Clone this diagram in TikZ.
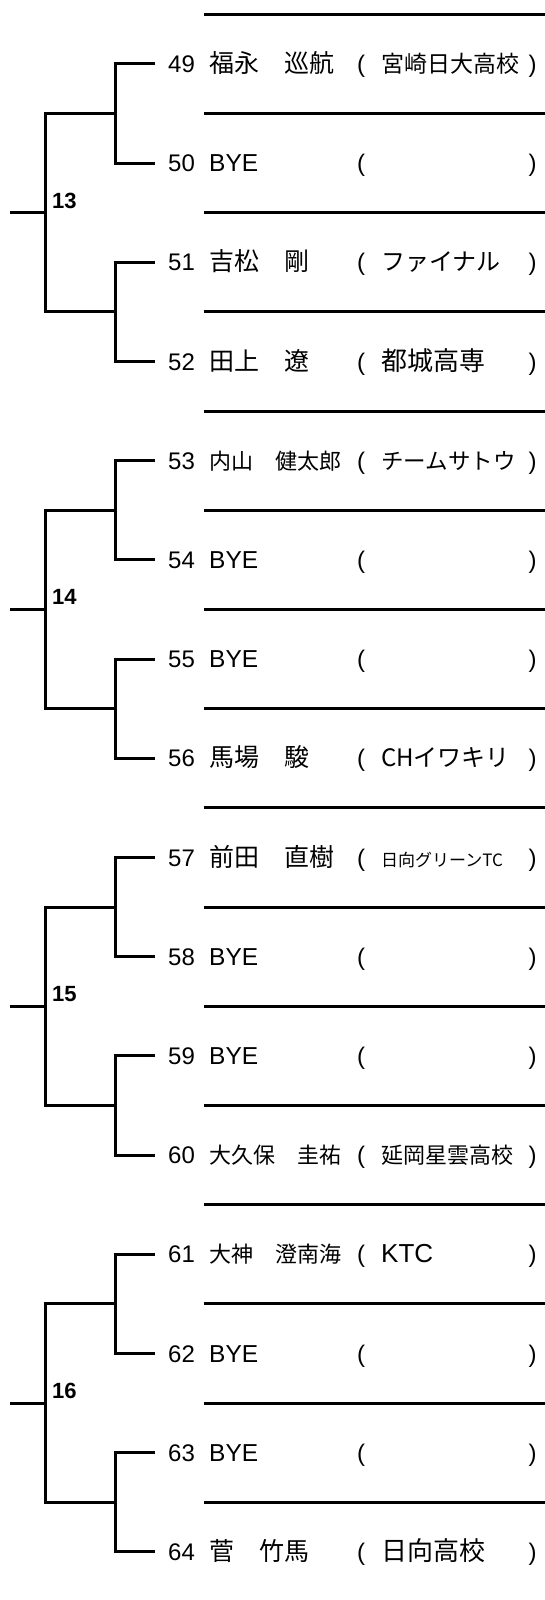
\documentclass[tikz,border=0pt]{standalone}
\usepackage{fontspec}
\setmainfont{Liberation Sans}
\newfontfamily\cjk{Noto Sans CJK JP}
\usetikzlibrary{calc}
\newcommand\txtjp[2]{{\cjk\fontsize{#1}{#1}\selectfont #2}}
\newcommand\txtlt[2]{{\fontsize{#1}{#1}\selectfont #2}}
\newcommand\plentry[4]{%
  \pgfmathsetmacro\ry{63.8+99.2*#1}%
  \pgfmathsetmacro\by{\ry+8.6}%
  \node[numtxt] (n#2) at (168,\by) {#2};
  \node[nametxt] (p#2) at (209,\by) {#3};
  \node[paren] (lp#2) at (361,\by) {(};
  \node[nametxt] (t#2) at (381,\by) {#4};
  \node[paren] (rp#2) at (532.5,\by) {)};
  \coordinate (s#2) at (155,\ry);
  \coordinate (j#2) at (115,\ry);
}
\newcommand\plgroup[2]{% g, label
  \pgfmathtruncatemacro\na{49+4*#1}%
  \pgfmathtruncatemacro\nb{50+4*#1}%
  \pgfmathtruncatemacro\nc{51+4*#1}%
  \pgfmathtruncatemacro\nd{52+4*#1}%
  \pgfmathsetmacro\ya{14.2+99.2*(4*#1+1)}%
  \pgfmathsetmacro\yb{14.2+99.2*(4*#1+3)}%
  \pgfmathsetmacro\ym{14.2+99.2*(4*#1+2)}%
  \coordinate (ua#1) at (115,\ya);
  \coordinate (ub#1) at (115,\yb);
  \coordinate (oa#1) at (45,\ya);
  \coordinate (ob#1) at (45,\yb);
  \coordinate (root#1) at (45,\ym);
  \coordinate (in#1) at (10,\ym);
  \draw[brk] (s\na) -- (j\na) -- (j\nb) -- (s\nb);
  \draw[brk] (s\nc) -- (j\nc) -- (j\nd) -- (s\nd);
  \draw[brk] (ua#1) -- (oa#1) -- (ob#1) -- (ub#1);
  \draw[brk] (in#1) -- (root#1);
  \node[lbl] (lab#1) at (52,\ym-4.6) {#2};
}
\begin{document}
\begin{tikzpicture}[x=1pt,y=-1pt,
  sepline/.style={line width=3pt},
  brk/.style={line width=3pt},
  numtxt/.style={anchor=base west,inner sep=0pt,font=\fontsize{24}{24}\selectfont},
  nametxt/.style={anchor=base west,inner sep=0pt},
  paren/.style={anchor=base,inner sep=0pt,font=\fontsize{24}{24}\selectfont},
  lbl/.style={anchor=base west,inner sep=0pt,font=\fontsize{22}{22}\selectfont\bfseries}]
\useasboundingbox (0,0) rectangle (544,1600);
\fill[white] (0,0) rectangle (544,1600);
% separator lines
\foreach \k in {0,...,15}{
  \pgfmathsetmacro\ly{14.2+99.2*\k}
  \coordinate (la\k) at (204,\ly);
  \coordinate (lb\k) at (546,\ly);
  \draw[sepline] (la\k) -- (lb\k);
}
% entries
\plentry{0}{49}{\txtjp{25}{福永　巡航}}{\txtjp{23}{宮崎日大高校}}
\plentry{1}{50}{\txtlt{24.5}{BYE}}{}
\plentry{2}{51}{\txtjp{25}{吉松　剛}}{\txtjp{24}{ファイナル}}
\plentry{3}{52}{\txtjp{25}{田上　遼}}{\txtjp{26}{都城高専}}
\plentry{4}{53}{\txtjp{22}{内山　健太郎}}{\txtjp{22.5}{チームサトウ}}
\plentry{5}{54}{\txtlt{24.5}{BYE}}{}
\plentry{6}{55}{\txtlt{24.5}{BYE}}{}
\plentry{7}{56}{\txtjp{25}{馬場　駿}}{\txtjp{24}{CHイワキリ}}
\plentry{8}{57}{\txtjp{25}{前田　直樹}}{\txtjp{17}{日向グリーンTC}}
\plentry{9}{58}{\txtlt{24.5}{BYE}}{}
\plentry{10}{59}{\txtlt{24.5}{BYE}}{}
\plentry{11}{60}{\txtjp{22}{大久保　圭祐}}{\txtjp{22}{延岡星雲高校}}
\plentry{12}{61}{\txtjp{22}{大神　澄南海}}{\txtlt{26}{KTC}}
\plentry{13}{62}{\txtlt{24.5}{BYE}}{}
\plentry{14}{63}{\txtlt{24.5}{BYE}}{}
\plentry{15}{64}{\txtjp{25}{菅　竹馬}}{\txtjp{26}{日向高校}}
% brackets
\plgroup{0}{13}
\plgroup{1}{14}
\plgroup{2}{15}
\plgroup{3}{16}
\end{tikzpicture}
\end{document}
